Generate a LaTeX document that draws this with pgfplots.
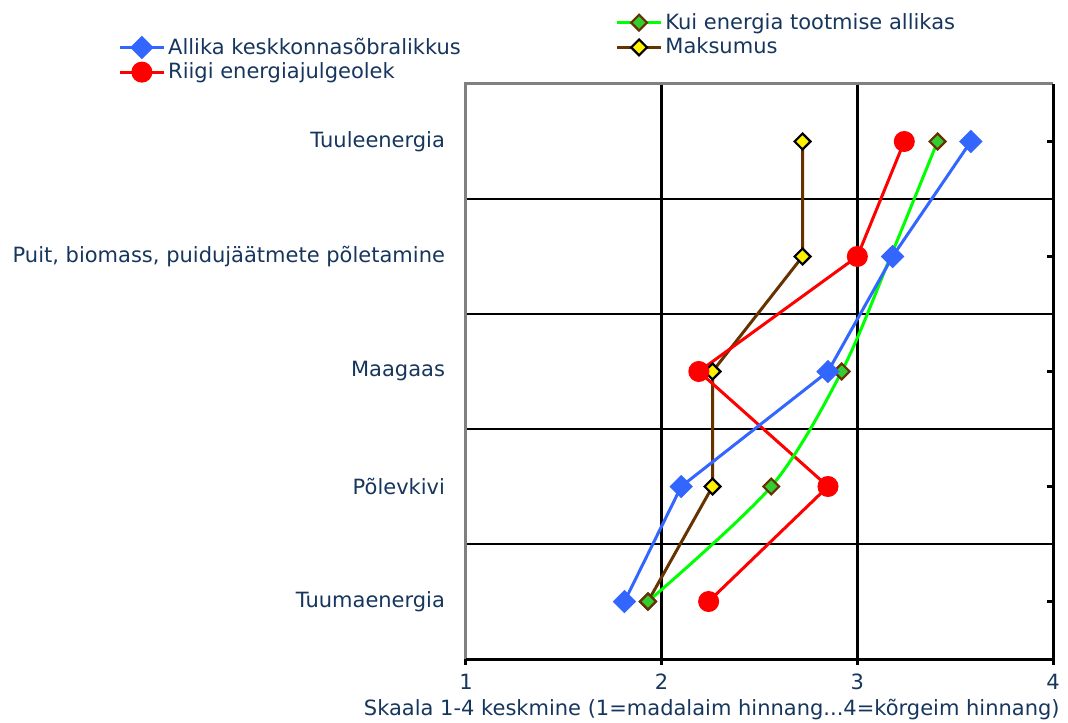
\documentclass[border=0pt]{standalone}
\usepackage{pgfplots}
\pgfplotsset{compat=1.18}
\usepackage{fontspec}
\setmainfont{DejaVu Sans}
\definecolor{navy}{RGB}{23,54,93}
\definecolor{cblue}{RGB}{51,102,255}
\definecolor{cgreen}{RGB}{0,255,0}
\definecolor{cgreenfill}{RGB}{51,204,51}
\definecolor{cbrown}{RGB}{102,51,0}
\definecolor{cgray}{RGB}{128,128,128}
\begin{document}
\begin{tikzpicture}
\useasboundingbox (-233pt,-31.5pt) rectangle (301pt,329.5pt);
\begin{axis}[
  scale only axis, width=293.5pt, height=287.5pt,
  xmin=1, xmax=4, ymin=0.5, ymax=5.5,
  clip=false,
  axis line style={draw=none},
  xtick={1,2,3,4}, xtick pos=bottom, xtick align=outside,
  ytick={1,2,3,4,5}, ytick pos=right, yticklabel pos=left, ytick align=inside,
  yticklabels={Tuumaenergia,Põlevkivi,Maagaas,{Puit, biomass, puidujäätmete põletamine},Tuuleenergia},
  extra y ticks={5.5}, extra y tick labels={},
  major tick length=3pt,
  tick style={black, line width=1.5pt},
  /pgf/number format/assume math mode=true,
  every tick label/.append style={text=navy, font=\fontsize{10.5}{12.5}\selectfont},
  yticklabel style={xshift=-7pt},
  xticklabel style={anchor=base, yshift=-12pt},
  legend style={draw=none, fill=none, text=navy, font=\fontsize{10.5}{12.5}\selectfont,
    at={(rel axis cs:0,1)}, anchor=north west, xshift=-174pt, yshift=37pt,
    inner sep=0pt, row sep=0pt,
    /tikz/every even column/.append style={column sep=76pt},
    nodes={inner sep=1.4pt}},
  legend columns=2,
  legend cell align=left,
  legend image code/.code={\draw[mark repeat=2,mark phase=2] plot coordinates {(0pt,0pt) (11pt,0pt) (22pt,0pt)};},
]
% grid
\draw[black, line width=1.3pt] (axis cs:2,0.5) -- (axis cs:2,5.5);
\draw[black, line width=1.3pt] (axis cs:3,0.5) -- (axis cs:3,5.5);
\draw[black, line width=1.3pt] (axis cs:1,1.5) -- (axis cs:4,1.5);
\draw[black, line width=1.3pt] (axis cs:1,2.5) -- (axis cs:4,2.5);
\draw[black, line width=1.3pt] (axis cs:1,3.5) -- (axis cs:4,3.5);
\draw[black, line width=1.3pt] (axis cs:1,4.5) -- (axis cs:4,4.5);

\addplot[cbrown, line width=1.5pt, mark=square*, mark size=2.8pt, mark options={rotate=45, fill=yellow, draw=black, line width=1.1pt}, forget plot]
  coordinates {(2.72,5) (2.72,4) (2.26,3) (2.26,2) (1.93,1)};
\addplot[red, line width=1.5pt, mark=*, mark size=4.5pt, mark options={fill=red, draw=red}, forget plot]
  coordinates {(3.24,5) (3.00,4) (2.19,3) (2.85,2) (2.24,1)};
\addplot[cgreen, line width=1.5pt, smooth, mark=square*, mark size=2.8pt, mark options={rotate=45, fill=cgreenfill, draw=cbrown, line width=1.1pt}, forget plot]
  coordinates {(3.41,5) (3.17,4) (2.92,3) (2.56,2) (1.93,1)};
\addplot[cblue, line width=1.5pt, mark=square*, mark size=3.4pt, mark options={rotate=45, fill=cblue, draw=cblue}, forget plot]
  coordinates {(3.58,5) (3.18,4) (2.85,3) (2.10,2) (1.81,1)};

% axis lines
\draw[cgray, line width=1.5pt] (rel axis cs:0,0) -- (rel axis cs:0,1) -- (rel axis cs:1,1);
\draw[black, line width=1.5pt] (rel axis cs:0,0) -- (rel axis cs:1,0) -- (rel axis cs:1,1);

\node[anchor=base east, inner sep=0pt, text=navy, font=\fontsize{10.5}{12.5}\selectfont] at (rel axis cs:1,0) [xshift=3.5pt, yshift=-28pt] {Skaala 1-4 keskmine (1=madalaim hinnang...4=kõrgeim hinnang)};

% legend
\addlegendimage{empty legend}\addlegendentry{}
\addlegendimage{cgreen, line width=1.5pt, mark=square*, mark size=2.8pt, mark options={rotate=45, fill=cgreenfill, draw=cbrown, line width=1.1pt}}\addlegendentry{Kui energia tootmise allikas}
\addlegendimage{cblue, line width=1.5pt, mark=square*, mark size=3.4pt, mark options={rotate=45, fill=cblue, draw=cblue}}\addlegendentry{Allika keskkonnasõbralikkus}
\addlegendimage{cbrown, line width=1.5pt, mark=square*, mark size=2.8pt, mark options={rotate=45, fill=yellow, draw=black, line width=1.1pt}}\addlegendentry{Maksumus}
\addlegendimage{red, line width=1.5pt, mark=*, mark size=4.5pt, mark options={fill=red, draw=red}}\addlegendentry{Riigi energiajulgeolek}
\end{axis}
\end{tikzpicture}
\end{document}
